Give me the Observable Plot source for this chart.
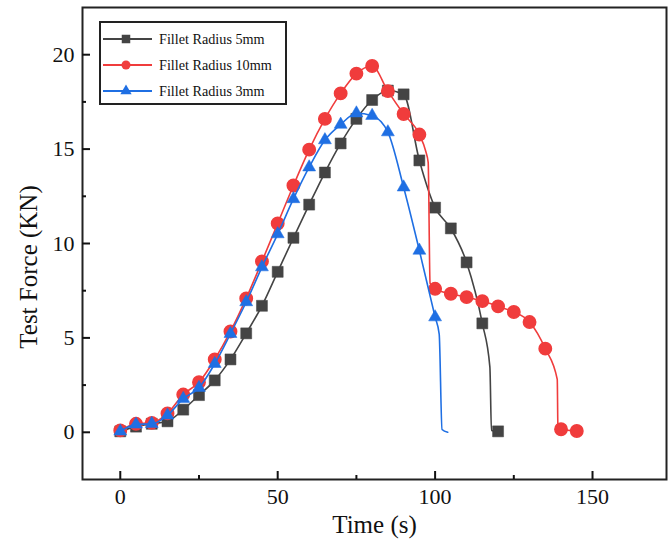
<!DOCTYPE html>
<html>
<head>
<meta charset="utf-8">
<script src="https://cdn.jsdelivr.net/npm/d3@7"></script>
<script src="https://cdn.jsdelivr.net/npm/@observablehq/plot@0.6"></script>
<style>
  html, body { margin: 0; padding: 0; background: #fff; }
  #wrap { position: relative; width: 672px; height: 542px; font-family: "Liberation Serif", "Times New Roman", serif; }
  #legend { position: absolute; left: 99px; top: 21px; width: 184px; height: 80px; border: 2px solid #222; background: #fff; }
  .row { position: absolute; left: 0; height: 20px; display: flex; align-items: center; }
  .row svg { display: block; }
  .row span { font-size: 14.2px; color: #111; margin-left: 6px; white-space: nowrap; }
  #ytitle { position: absolute; left: 28px; top: 267px; transform: translate(-50%, -50%) rotate(-90deg); font-size: 25px; color: #111; white-space: nowrap; line-height: 1; }
</style>
</head>
<body>
<div id="wrap"></div>
<script>
// ---- Data ----
const seriesNames = ["Fillet Radius 5mm", "Fillet Radius 10mm", "Fillet Radius 3mm"];
const seriesColors = ["#444444", "#f03c3c", "#1f6fe3"];
const seriesSymbols = ["square", "circle", "triangle"];

const time5mm = [0,5,10,15,20,25,30,35,40,45,50,55,60,65,70,75,80,85,90,95,100,105,110,115,117.4,117.9,120];
const force5mm = [0.05,0.3,0.45,0.58,1.2,1.97,2.75,3.86,5.24,6.7,8.5,10.3,12.06,13.76,15.3,16.6,17.6,18.1,17.9,14.4,11.9,10.8,9.0,5.77,3.45,0.1,0.05];

const time10mm = [0,5,10,15,20,25,30,35,40,45,50,55,60,65,70,75,80,85,90,95,97,97.8,98.4,100,105,110,115,120,125,130,135,138.8,139,140,145];
const force10mm = [0.1,0.45,0.5,1.0,2.0,2.65,3.86,5.34,7.09,9.05,11.06,13.07,14.97,16.6,17.95,19.0,19.4,18.07,16.86,15.77,14.9,14.3,7.9,7.6,7.34,7.16,6.95,6.67,6.37,5.84,4.43,2.8,0.4,0.16,0.07];

const time3mm = [0,5,10,15,20,25,30,35,40,45,50,55,60,65,70,75,80,85,90,95,100,101.3,102.2,104];
const force3mm = [0.05,0.42,0.45,0.9,1.78,2.36,3.63,5.22,6.9,8.75,10.5,12.36,14.04,15.48,16.3,16.9,16.77,15.9,12.98,9.63,6.1,5.2,0.15,0.0];

const xMajorTicks = [0, 50, 100, 150];
const xMinorTicks = [25, 75, 125];
const yMajorTicks = [0, 5, 10, 15, 20];
const yMinorTicks = [2.5, 7.5, 12.5, 17.5];

const xTitle = "Time (s)";
const yTitle = "Test Force (KN)";

// ---- Build tables ----
const allTimes = [time5mm, time10mm, time3mm];
const allForces = [force5mm, force10mm, force3mm];
const rows = [];
allTimes.forEach((ts, k) => ts.forEach((t, i) => rows.push({t, f: allForces[k][i], s: seriesNames[k], k})));

const marks = [];
for (let k = 0; k < 3; k++) {
  const d = rows.filter(r => r.k === k);
  marks.push(Plot.line(d, {x: "t", y: "f", stroke: seriesColors[k], strokeWidth: 1.6, curve: "monotone-x"}));
  const m = d.filter(r => r.t % 5 === 0);
  const r = k === 0 ? 6.2 : k === 1 ? 6.2 : 4.8;
  marks.push(Plot.dot(m, {x: "t", y: "f", symbol: seriesSymbols[k], fill: seriesColors[k], stroke: seriesColors[k], strokeWidth: k === 1 ? 1.5 : 0.5, r}));
}

const fontFamily = '"Liberation Serif", "Times New Roman", serif';

const chart = Plot.plot({
  width: 672,
  height: 542,
  marginLeft: 82,
  marginRight: 6,
  marginTop: 7,
  marginBottom: 63,
  style: {fontFamily, background: "transparent", color: "#111"},
  x: {domain: [-12, 173.5]},
  y: {domain: [-2.5, 22.5]},
  marks: [
    ...marks,
    Plot.frame({stroke: "#222", strokeWidth: 2}),
    Plot.axisX(xMajorTicks, {anchor: "bottom", tickSize: -8, strokeWidth: 2, text: null, label: null}),
    Plot.axisX(xMinorTicks, {anchor: "bottom", tickSize: -4, strokeWidth: 2, text: null, label: null}),
    Plot.axisX(xMajorTicks, {anchor: "bottom", tickSize: 0, tickPadding: 9, fontSize: 22, label: null, fill: "#111"}),
    Plot.axisY(yMajorTicks, {anchor: "left", tickSize: -8, strokeWidth: 2, text: null, label: null}),
    Plot.axisY(yMinorTicks, {anchor: "left", tickSize: -4, strokeWidth: 2, text: null, label: null}),
    Plot.axisY(yMajorTicks, {anchor: "left", tickSize: 0, tickPadding: 8, fontSize: 22, label: null, fill: "#111"}),
    Plot.text([xTitle], {frameAnchor: "bottom", dy: 45, fontSize: 25, lineAnchor: "middle", fill: "#111"})
  ]
});

const wrap = document.getElementById("wrap");
wrap.appendChild(chart);

// ---- Y axis title ----
const yt = document.createElement("div");
yt.id = "ytitle";
yt.textContent = yTitle;
wrap.appendChild(yt);

// ---- Legend ----
const legend = document.createElement("div");
legend.id = "legend";
seriesNames.forEach((name, k) => {
  const row = document.createElement("div");
  row.className = "row";
  row.style.top = (6 + k * 26) + "px";
  const ns = "http://www.w3.org/2000/svg";
  const svg = document.createElementNS(ns, "svg");
  svg.setAttribute("width", 52);
  svg.setAttribute("height", 20);
  const line = document.createElementNS(ns, "line");
  line.setAttribute("x1", 2); line.setAttribute("x2", 51);
  line.setAttribute("y1", 10); line.setAttribute("y2", 10);
  line.setAttribute("stroke", seriesColors[k]); line.setAttribute("stroke-width", 1.8);
  svg.appendChild(line);
  const p = document.createElementNS(ns, "path");
  const sym = k === 0 ? d3.symbolSquare : k === 1 ? d3.symbolCircle : d3.symbolTriangle;
  const rr = k === 0 ? 4.8 : k === 1 ? 4.5 : 4.2;
  p.setAttribute("d", d3.symbol(sym, rr * rr * Math.PI)());
  p.setAttribute("transform", "translate(25,10)");
  p.setAttribute("fill", seriesColors[k]);
  svg.appendChild(p);
  row.appendChild(svg);
  const span = document.createElement("span");
  span.textContent = name;
  row.appendChild(span);
  legend.appendChild(row);
});
wrap.appendChild(legend);
</script>
</body>
</html>
